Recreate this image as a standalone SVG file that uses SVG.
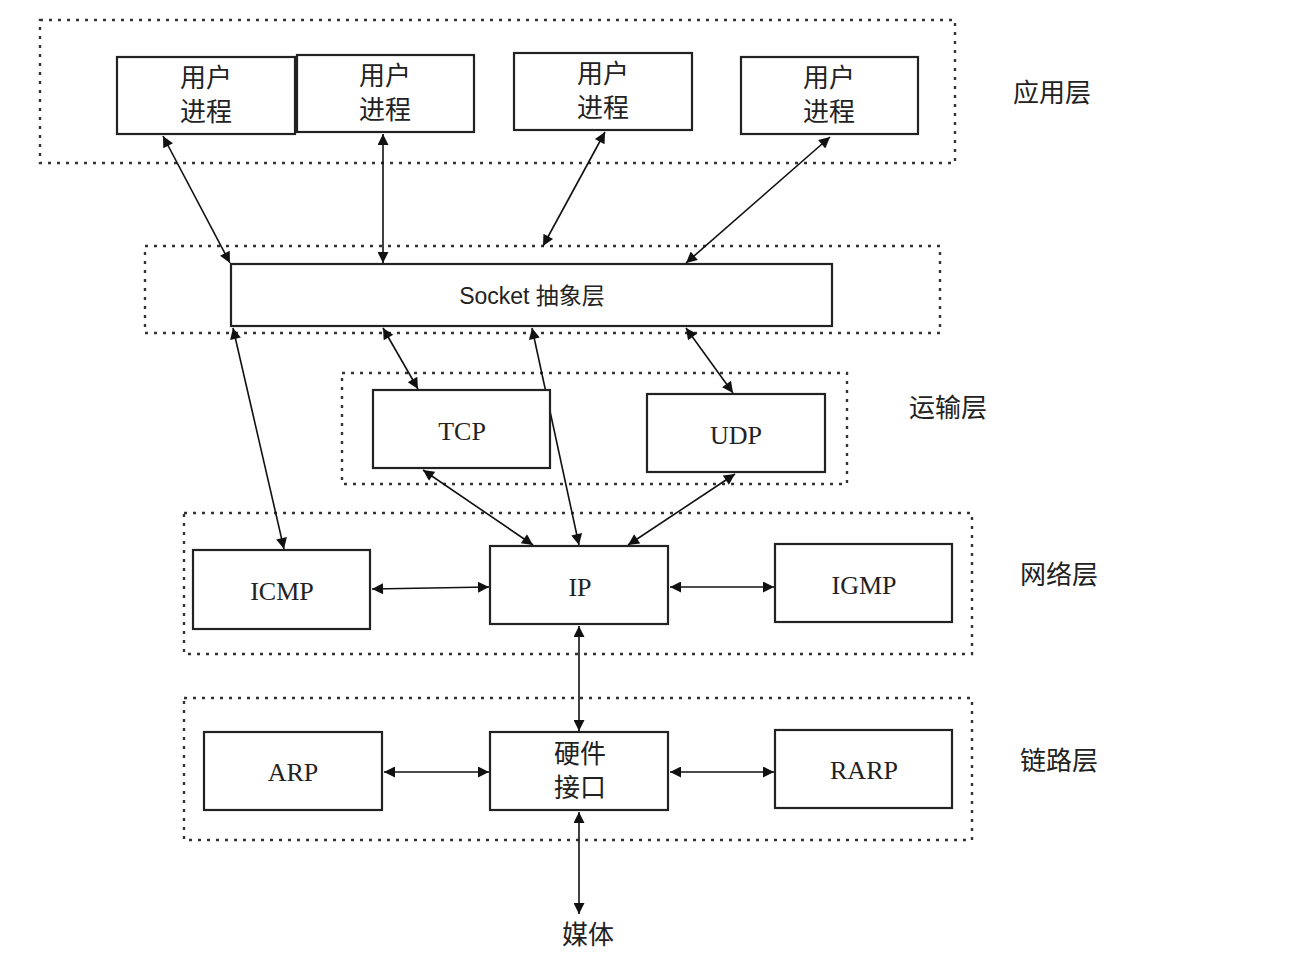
<svg xmlns="http://www.w3.org/2000/svg" width="1308" height="974" viewBox="0 0 1308 974">
<style>
.layer{fill:none;stroke:#333;stroke-width:2.4;stroke-dasharray:3 6}
.box{fill:#fff;stroke:#222;stroke-width:2.2}
.cjk{font-family:"Noto Sans CJK SC","Liberation Sans",sans-serif;font-size:26px;fill:#222;text-anchor:middle}
.lat{font-family:"Liberation Serif",serif;font-size:26px;fill:#222;text-anchor:middle}
.sock{font-family:"Liberation Sans Narrow","Liberation Sans","Noto Sans CJK SC",sans-serif;font-size:23px;fill:#222;text-anchor:middle}
.c{stroke:#111;stroke-width:1.6;fill:none;marker-start:url(#ah);marker-end:url(#ah)}
</style>
<defs>
<marker id="ah" viewBox="0 0 10 10" refX="10" refY="5" markerWidth="14" markerHeight="11" markerUnits="userSpaceOnUse" orient="auto-start-reverse">
<path d="M0,0 L10,5 L0,10 z" fill="#111"/>
</marker>
</defs>
<rect width="1308" height="974" fill="#fff"/>

<g id="layers">
<rect class="layer" x="40" y="20" width="915" height="143"/>
<rect class="layer" x="145" y="246" width="795" height="87"/>
<rect class="layer" x="342" y="373" width="505" height="111"/>
<rect class="layer" x="184" y="513" width="788" height="141"/>
<rect class="layer" x="184" y="698" width="788" height="142"/>
</g>

<g id="connectors">
<line class="c" x1="163" y1="136" x2="230" y2="263"/>
<line class="c" x1="383" y1="134" x2="383" y2="263"/>
<line class="c" x1="605" y1="132" x2="543" y2="246"/>
<line class="c" x1="830" y1="137" x2="686" y2="263"/>
<line class="c" x1="233" y1="328" x2="284" y2="549"/>
<line class="c" x1="383" y1="328" x2="418" y2="389"/>
<line class="c" x1="532" y1="328" x2="579" y2="545"/>
<line class="c" x1="686" y1="328" x2="733" y2="393"/>
<line class="c" x1="423" y1="470" x2="533" y2="545"/>
<line class="c" x1="735" y1="474" x2="628" y2="545"/>
<line class="c" x1="372" y1="589" x2="489" y2="587"/>
<line class="c" x1="670" y1="587" x2="774" y2="587"/>
<line class="c" x1="579" y1="626" x2="579" y2="731"/>
<line class="c" x1="384" y1="772" x2="489" y2="772"/>
<line class="c" x1="670" y1="772" x2="774" y2="772"/>
<line class="c" x1="579" y1="812" x2="579" y2="914"/>
</g>

<g id="user1"><rect class="box" x="117" y="57" width="178" height="77"/><text class="cjk" x="206" y="87">用户</text><text class="cjk" x="206" y="121">进程</text></g>
<g id="user2"><rect class="box" x="297" y="55" width="177" height="77"/><text class="cjk" x="385" y="85">用户</text><text class="cjk" x="385" y="119">进程</text></g>
<g id="user3"><rect class="box" x="514" y="53" width="178" height="77"/><text class="cjk" x="603" y="83">用户</text><text class="cjk" x="603" y="117">进程</text></g>
<g id="user4"><rect class="box" x="741" y="57" width="177" height="77"/><text class="cjk" x="829" y="87">用户</text><text class="cjk" x="829" y="121">进程</text></g>

<g id="socket"><rect class="box" x="231" y="264" width="601" height="62"/><text class="sock" x="532" y="304">Socket <tspan style="font-family:'Noto Sans CJK SC',sans-serif">抽象层</tspan></text></g>

<g id="tcp"><rect class="box" x="373" y="390" width="177" height="78"/><text class="lat" x="462" y="440">TCP</text></g>
<g id="udp"><rect class="box" x="647" y="394" width="178" height="78"/><text class="lat" x="736" y="444">UDP</text></g>

<g id="icmp"><rect class="box" x="193" y="550" width="177" height="79"/><text class="lat" x="282" y="600">ICMP</text></g>
<g id="ip"><rect class="box" x="490" y="546" width="178" height="78"/><text class="lat" x="580" y="596">IP</text></g>
<g id="igmp"><rect class="box" x="775" y="544" width="177" height="78"/><text class="lat" x="864" y="594">IGMP</text></g>

<g id="arp"><rect class="box" x="204" y="732" width="178" height="78"/><text class="lat" x="293" y="781">ARP</text></g>
<g id="hw"><rect class="box" x="490" y="732" width="178" height="78"/><text class="cjk" x="580" y="763">硬件</text><text class="cjk" x="580" y="797">接口</text></g>
<g id="rarp"><rect class="box" x="775" y="730" width="177" height="78"/><text class="lat" x="864" y="779">RARP</text></g>

<g id="labels">
<text class="cjk" x="1052" y="102">应用层</text>
<text class="cjk" x="948" y="417">运输层</text>
<text class="cjk" x="1059" y="584">网络层</text>
<text class="cjk" x="1059" y="770">链路层</text>
<text class="cjk" x="588" y="944">媒体</text>
</g>
</svg>
